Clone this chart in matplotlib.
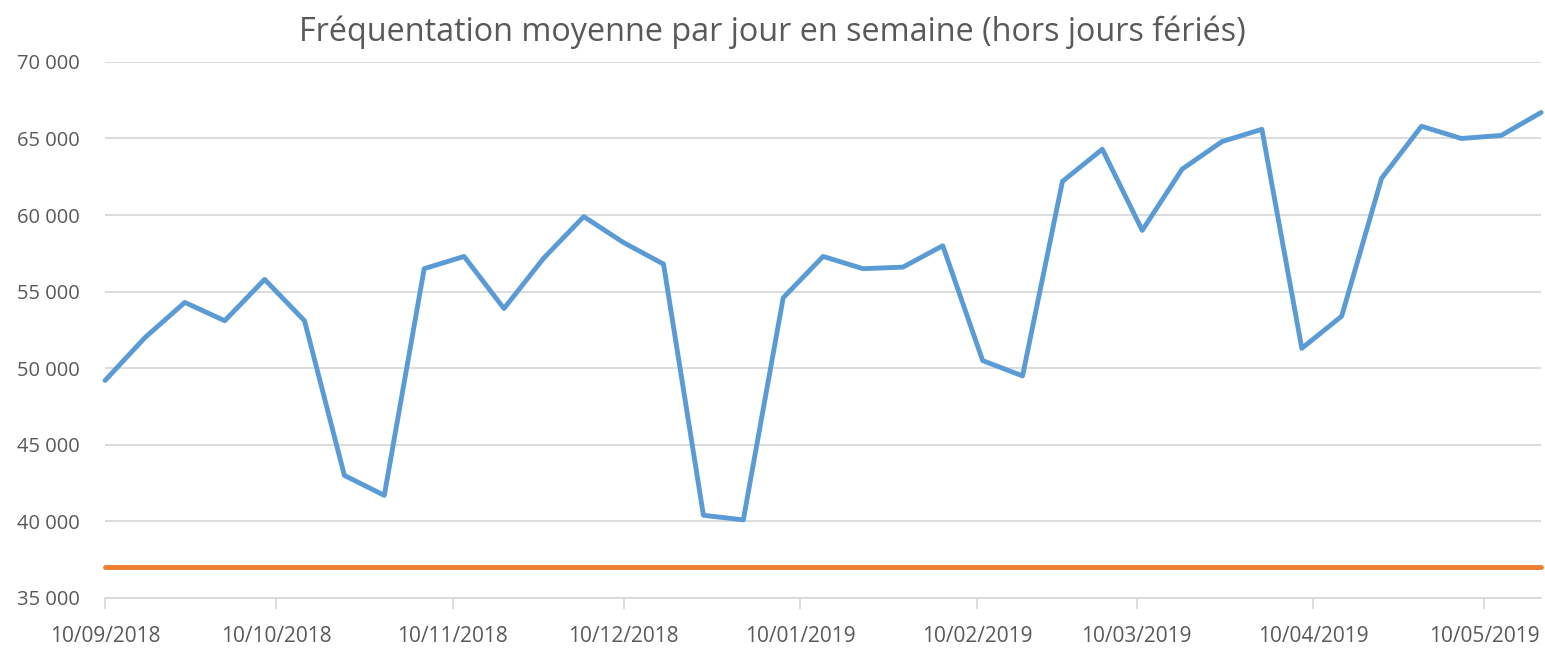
import numpy as np
import pandas as pd
import matplotlib
matplotlib.use('Agg')
import matplotlib.pyplot as plt
from matplotlib.ticker import FuncFormatter

# weekly values (Mondays)
semaines = pd.date_range('2018-09-10', periods=37, freq='7D')
frequentation = [49200, 52000, 54300, 53100, 55800, 53100, 43000, 41700,
                 56500, 57300, 53900, 57200, 59900, 58200, 56800, 40400,
                 40100, 54600, 57300, 56500, 56600, 58000, 50500, 49500,
                 62200, 64300, 59000, 63000, 64800, 65600, 51300, 53400,
                 62400, 65800, 65000, 65200, 66700]
objectif = [37000] * len(frequentation)

mois = pd.to_datetime(['2018-09-10', '2018-10-10', '2018-11-10', '2018-12-10',
                       '2019-01-10', '2019-02-10', '2019-03-10', '2019-04-10',
                       '2019-05-10'])
mois_labels = ['10/09/2018', '10/10/2018', '10/11/2018', '10/12/2018',
               '10/01/2019', '10/02/2019', '10/03/2019', '10/04/2019',
               '10/05/2019']

plt.rcParams['font.family'] = ['Open Sans', 'DejaVu Sans']
txt = '#595959'
grid = '#d9d9d9'

fig = plt.figure(figsize=(15.45, 6.49), dpi=100)
ax = fig.add_axes([0.068, 0.0786, 0.9295, 0.826])

ax.plot(semaines, frequentation, color='#5B9BD5', linewidth=3.5,
        solid_joinstyle='round', solid_capstyle='round', clip_on=False, zorder=3)
ax.plot(semaines, objectif, color='#ED7D31', linewidth=3.5,
        solid_capstyle='round', clip_on=False, zorder=3)

ax.set_xlim(semaines[0], semaines[-1])
ax.set_ylim(35000, 70000)
ax.set_yticks(np.arange(35000, 70001, 5000))
ax.yaxis.set_major_formatter(FuncFormatter(lambda v, p: '{:,.0f}'.format(v).replace(',', ' ')))
ax.set_xticks(mois)
ax.set_xticklabels(mois_labels)

ax.grid(axis='y', color=grid, linewidth=1.3)
ax.set_axisbelow(True)
for s in ['top', 'right', 'left']:
    ax.spines[s].set_visible(False)
ax.spines['bottom'].set_color(grid)
ax.spines['bottom'].set_linewidth(1.3)
ax.tick_params(axis='y', length=0, pad=18, labelsize=14.5, labelcolor=txt)
ax.tick_params(axis='x', length=8, width=1.3, color=grid, pad=12,
               labelsize=15, labelcolor=txt)

fig.text(0.5, 0.95, 'Fréquentation moyenne par jour en semaine (hors jours fériés)',
         ha='center', va='center', fontsize=23.3, color=txt)

fig.savefig('out.png', dpi=100)
